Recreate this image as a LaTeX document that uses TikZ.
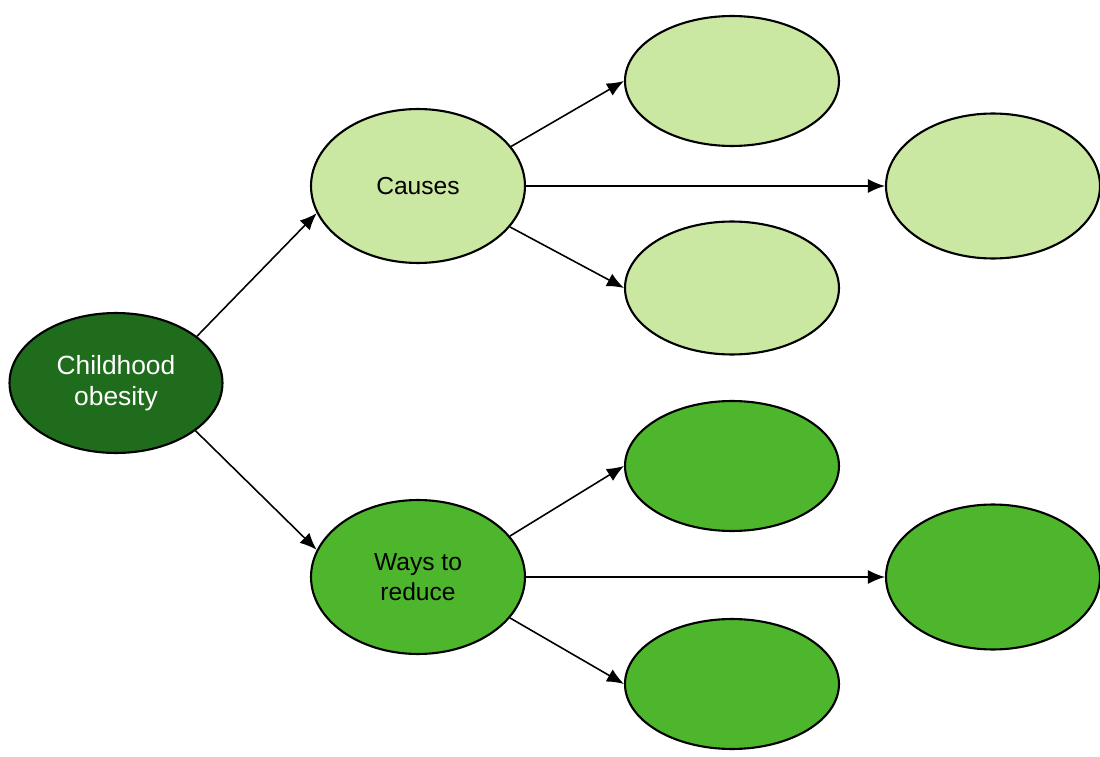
\documentclass[tikz,border=0pt]{standalone}
\usepackage{fontspec}
\setmainfont{Liberation Sans}
\usetikzlibrary{arrows.meta,shapes.geometric}
\definecolor{darkleaf}{RGB}{30,108,28}
\definecolor{paleleaf}{RGB}{202,232,162}
\definecolor{midleaf}{RGB}{78,182,44}

\begin{document}
\begin{tikzpicture}[
  x=0.02cm, y=-0.02cm,
  bubble/.style={draw, ellipse, line width=1.2pt, inner sep=0pt, align=center,
    font=\fontsize{14}{17}\selectfont, minimum width=4.28cm},
  root/.style={bubble, fill=darkleaf, text=white, minimum width=4.26cm, minimum height=2.8cm,
    font=\fontsize{15}{17.5}\selectfont},
  branch/.style={bubble, minimum height=3.08cm},
  leaf/.style={bubble, minimum height=2.6cm},
  wide/.style={bubble, minimum height=2.9cm},
  arrow/.style={-{Latex[length=3.4mm,width=2.8mm]}, line width=0.9pt}
]
\useasboundingbox (0,0) rectangle (1100,757);

\node[root] (child) at (116,383) {Childhood\\obesity};

\node[branch, fill=paleleaf] (causes) at (418,186) {Causes};
\node[leaf, fill=paleleaf] (causeA) at (732,81) {};
\node[wide, fill=paleleaf] (causeB) at (993,186) {};
\node[leaf, fill=paleleaf, minimum height=2.66cm] (causeC) at (732,288) {};

\node[branch, fill=midleaf] (reduce) at (418,577) {Ways to\\reduce};
\node[leaf, fill=midleaf] (reduceA) at (732,466) {};
\node[wide, fill=midleaf] (reduceB) at (993,577) {};
\node[leaf, fill=midleaf] (reduceC) at (732,684) {};

\draw[arrow] (child.30) -- (causes.195);
\draw[arrow] (child.-31) -- (reduce.165);

\draw[arrow] (causes.23) -- (causeA.west);
\draw[arrow] (causes.east) -- (causeB.west);
\draw[arrow] (causes.-24) -- (causeC.west);

\draw[arrow] (reduce.24) -- (reduceA.west);
\draw[arrow] (reduce.east) -- (reduceB.west);
\draw[arrow] (reduce.-24) -- (reduceC.west);
\end{tikzpicture}
\end{document}
